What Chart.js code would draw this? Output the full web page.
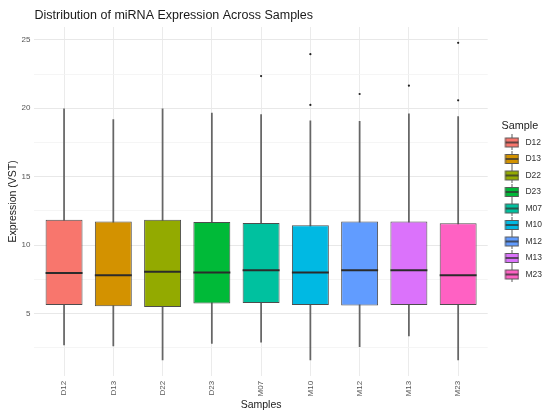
<!DOCTYPE html>
<html>
<head>
<meta charset="utf-8">
<script src="https://cdn.jsdelivr.net/npm/chart.js@4.4.1/dist/chart.umd.min.js"></script>
<style>
  html, body { margin: 0; padding: 0; background: #ffffff; }
  #wrap { width: 550px; height: 418px; }
</style>
</head>
<body>
<div id="wrap"><canvas id="boxChart"></canvas></div>
<script>
// values
const samples = ['D12', 'D13', 'D22', 'D23', 'M07', 'M10', 'M12', 'M13', 'M23'];
const whiskerLow = [2.71, 2.62, 1.60, 2.81, 2.91, 1.60, 2.57, 3.35, 1.60];
const q1 = [5.62, 5.53, 5.48, 5.72, 5.77, 5.62, 5.58, 5.62, 5.62];
const medians = [7.95, 7.80, 8.05, 8.00, 8.15, 8.00, 8.15, 8.15, 7.80];
const q3 = [11.85, 11.73, 11.85, 11.69, 11.61, 11.44, 11.73, 11.73, 11.59];
const whiskerHigh = [19.95, 19.18, 19.95, 19.64, 19.54, 19.08, 19.05, 19.59, 19.39];
const outlierSample = ['M07', 'M10', 'M10', 'M12', 'M13', 'M23', 'M23'];
const outlierValue = [22.35, 23.95, 20.24, 21.04, 21.65, 24.78, 20.58];
const yTicks = [5, 10, 15, 20, 25];
const fillColors = ['#F8766D', '#D39200', '#93AA00', '#00BA38', '#00C19F', '#00B9E3', '#619CFF', '#DB72FB', '#FF61C3'];

const FONT = "'Liberation Sans', Arial, sans-serif";

// small boxplot glyphs for the legend keys (drawn a bit right of the image centre)
function makeGlyph(color) {
    const c = document.createElement('canvas');
    c.width = 22; c.height = 16;
    const g = c.getContext('2d');
    const cx = 14.5;
    g.strokeStyle = '#5a5a5a'; g.lineWidth = 1;
    g.beginPath(); g.moveTo(cx, 0); g.lineTo(cx, 16); g.stroke();
    g.fillStyle = color;
    g.fillRect(cx - 7, 3, 14, 10);
    g.strokeRect(cx - 6.5, 3.5, 13, 9);
    g.strokeStyle = '#333333'; g.lineWidth = 1.5;
    g.beginPath(); g.moveTo(cx - 6.5, 8); g.lineTo(cx + 6.5, 8); g.stroke();
    return c;
}
const glyphs = fillColors.map(makeGlyph);

// median lines drawn across each box using the chart's scales
const medianPlugin = {
    id: 'medianLines',
    afterDatasetsDraw(chart) {
        const meta = chart.getDatasetMeta(0);
        const yScale = chart.scales.y;
        const ctx = chart.ctx;
        ctx.save();
        ctx.strokeStyle = '#2b2b2b';
        ctx.lineWidth = 2;
        meta.data.forEach((bar, i) => {
            const y = yScale.getPixelForValue(medians[i]);
            ctx.beginPath();
            ctx.moveTo(bar.x - bar.width / 2, y);
            ctx.lineTo(bar.x + bar.width / 2, y);
            ctx.stroke();
        });
        ctx.restore();
    }
};

const allValues = whiskerLow.concat(whiskerHigh, outlierValue);
const dataMin = Math.min(...allValues), dataMax = Math.max(...allValues);
const pad = (dataMax - dataMin) * 0.05;

const ctx = document.getElementById('boxChart');
new Chart(ctx, {
    type: 'bar',
    data: {
        datasets: [
            {
                label: 'box',
                data: samples.map((s, i) => ({ x: i, y: [q1[i], q3[i]] })),
                backgroundColor: fillColors,
                borderColor: '#4d4d4d', borderWidth: 1, borderSkipped: false,
                barPercentage: 0.75, categoryPercentage: 1, grouped: false
            },
            {
                label: 'whisker',
                data: samples.map((s, i) => ({ x: i, y: [whiskerLow[i], whiskerHigh[i]] })),
                backgroundColor: '#666666', borderWidth: 0,
                barThickness: 1.1, grouped: false
            },
            {
                type: 'scatter',
                label: 'outliers',
                data: outlierSample.map((s, i) => ({ x: samples.indexOf(s), y: outlierValue[i] })),
                backgroundColor: '#222222', borderWidth: 0,
                pointRadius: 1.1, pointHoverRadius: 1.1
            }
        ]
    },
    options: {
        responsive: true, maintainAspectRatio: false, animation: false,
        layout: { padding: { left: 1, right: -2, top: 0, bottom: 4 } },
        scales: {
            x: {
                type: 'linear', offset: false, min: -0.6, max: samples.length - 1 + 0.6,
                afterBuildTicks: axis => { axis.ticks = samples.map((s, i) => ({ value: i })); },
                ticks: {
                    callback: v => samples[v], autoSkip: false,
                    minRotation: 90, maxRotation: 90, padding: 5,
                    color: '#555555', font: { family: FONT, size: 8 }
                },
                grid: { offset: false, color: '#ebebeb', lineWidth: 1, drawTicks: false },
                border: { display: false },
                title: { display: true, text: 'Samples', color: '#222222', font: { family: FONT, size: 10.5 }, padding: { top: -3, bottom: 3 } }
            },
            y: {
                min: dataMin - pad, max: dataMax + pad,
                afterBuildTicks: axis => {
                    const t = [];
                    for (let v = 2.5; v <= axis.max; v += 2.5) t.push({ value: v });
                    axis.ticks = t;
                },
                ticks: {
                    callback: v => (yTicks.includes(v) ? v : ''), padding: 4,
                    color: '#555555', font: { family: FONT, size: 8 }
                },
                grid: {
                    drawTicks: false,
                    color: c => (yTicks.includes(c.tick.value) ? '#e8e8e8' : '#f3f3f3'),
                    lineWidth: c => (yTicks.includes(c.tick.value) ? 1 : 0.8)
                },
                border: { display: false },
                title: { display: true, text: 'Expression (VST)', color: '#222222', font: { family: FONT, size: 10.5 }, padding: { top: 6, bottom: -2 } }
            }
        },
        plugins: {
            title: {
                display: true, text: 'Distribution of miRNA Expression Across Samples',
                align: 'start', fullSize: false, color: '#1a1a1a',
                font: { family: FONT, size: 12.5, weight: 'normal' },
                padding: { top: 8, bottom: 4 }
            },
            legend: {
                position: 'right', align: 'center',
                title: { display: true, position: 'center', text: 'Sample', color: '#222222', font: { family: FONT, size: 10.8 }, padding: { top: -7, bottom: -3 } },
                labels: {
                    usePointStyle: true, pointStyleWidth: 25.5, padding: 8, color: '#333333',
                    font: { family: FONT, size: 8.5 },
                    generateLabels: () => samples.map((s, i) => ({
                        text: s, pointStyle: glyphs[i], fillStyle: fillColors[i],
                        strokeStyle: '#5a5a5a', lineWidth: 0, hidden: false, datasetIndex: 0,
                        fontColor: '#333333'
                    }))
                },
                onClick: null
            },
            tooltip: { enabled: false }
        }
    },
    plugins: [medianPlugin]
});
</script>
</body>
</html>
